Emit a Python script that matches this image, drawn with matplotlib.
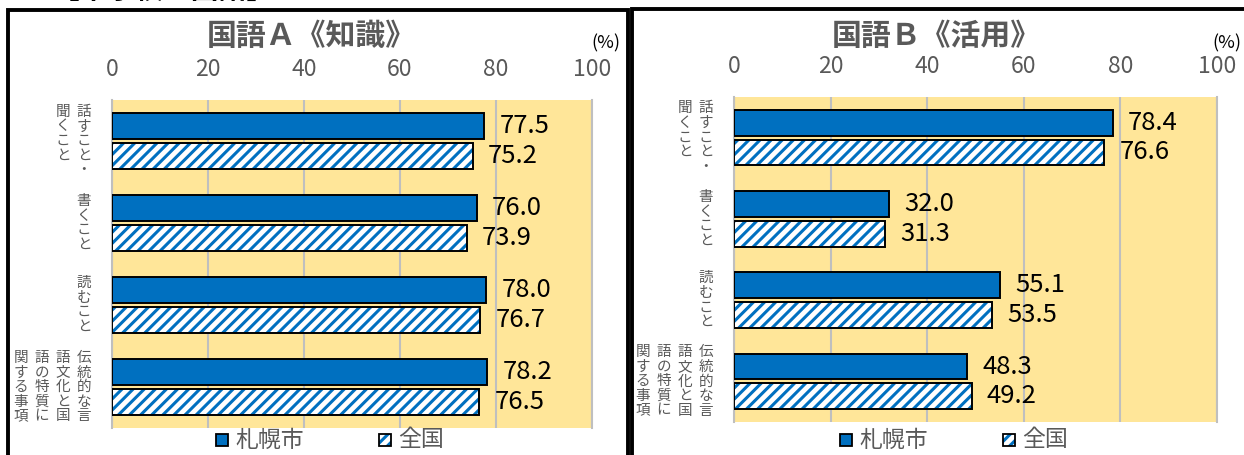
import numpy as np
import matplotlib.pyplot as plt
from matplotlib.patches import Rectangle

plt.rcParams['font.family'] = ['Noto Sans CJK JP', 'DejaVu Sans']
plt.rcParams['hatch.linewidth'] = 2.2

W, H = 1244, 455

# data
categories = ['話すこと・聞くこと', '書くこと', '読むこと',
              '伝統的な言語文化と国語の特質に関する事項']
sapporo_a = [77.5, 76.0, 78.0, 78.2]
national_a = [75.2, 73.9, 76.7, 76.5]
sapporo_b = [78.4, 32.0, 55.1, 48.3]
national_b = [76.6, 31.3, 53.5, 49.2]
xticks = [0, 20, 40, 60, 80, 100]
legend_labels = ['札幌市', '全国']
header = '【中学校　国語】'

BLUE = '#0070C0'
YELLOW = '#FFE699'
GRAY = '#595959'
GRID = '#BFBFBF'
HATCH = '///'


def fx(px):
    return px / W


def fy(py):
    return 1 - py / H


def hatched_rect(x, y, w, h, **kw):
    """white box with blue stripes and a black edge, figure pixels"""
    fig.add_artist(Rectangle((fx(x), fy(y + h)), w / W, h / H, facecolor='white',
                             edgecolor=BLUE, hatch=HATCH, linewidth=0,
                             transform=fig.transFigure, **kw))
    fig.add_artist(Rectangle((fx(x), fy(y + h)), w / W, h / H, fill=False,
                             edgecolor='black', linewidth=1.3,
                             transform=fig.transFigure, **kw))


def draw_panel(left, top, right, bottom, title, title_x, pct_x, s_vals, n_vals, leg_x):
    ax = fig.add_axes([fx(left), fy(bottom), (right - left) / W, (bottom - top) / H])
    ax.set_facecolor(YELLOW)
    y = np.arange(len(categories))
    h = 0.317
    off = 0.183
    ax.barh(y - off, s_vals, height=h, color=BLUE, edgecolor='black', linewidth=1.4, zorder=3)
    ax.barh(y + off, n_vals, height=h, color='white', edgecolor=BLUE, hatch=HATCH,
            linewidth=0, zorder=3)
    ax.barh(y + off, n_vals, height=h, fill=False, edgecolor='black', linewidth=1.4, zorder=4)
    for yy, v in zip(y - off, s_vals):
        ax.annotate(f'{v:.1f}', (v, yy), xytext=(11, 0), textcoords='offset points',
                    ha='left', va='center', fontsize=18.5, color='black')
    for yy, v in zip(y + off, n_vals):
        ax.annotate(f'{v:.1f}', (v, yy), xytext=(11, 0), textcoords='offset points',
                    ha='left', va='center', fontsize=18.5, color='black')

    ax.set_xlim(0, 100)
    ax.set_ylim(len(categories) - 0.5, -0.5)
    ax.set_xticks(xticks)
    ax.xaxis.tick_top()
    ax.tick_params(axis='x', length=0, pad=14, labelsize=16.5, labelcolor=GRAY)
    ax.set_yticks([])
    ax.grid(axis='x', color=GRID, linewidth=1.5, zorder=1)
    for s in ['top', 'bottom']:
        ax.spines[s].set_visible(False)
    for s in ['left', 'right']:
        ax.spines[s].set_color(GRID)
        ax.spines[s].set_linewidth(1.5)

    # vertical category labels, columns of 5 chars read right to left
    band = (bottom - top) / len(categories)
    step = 14.6
    for i, cat in enumerate(categories):
        cols = [cat[k:k + 5] for k in range(0, len(cat), 5)]
        n = max(len(c) for c in cols)
        yc = top + band * (i + 0.5)
        y0 = yc - n * step / 2 + step / 2
        for j, col in enumerate(cols):
            xc = left - 28 - 21 * j
            for k, ch in enumerate(col):
                fig.text(fx(xc), fy(y0 + k * step), ch, ha='center', va='center',
                         fontsize=10.5, color=GRAY)

    fig.text(fx(title_x), fy(36), title, ha='center', va='center', fontsize=21.5,
             fontweight='bold', color=GRAY)
    fig.text(fx(pct_x), fy(43), '(%)', ha='center', va='center', fontsize=13, color='black')

    # legend
    ly = 440
    fig.add_artist(Rectangle((fx(leg_x - 6), fy(ly + 6)), 12 / W, 12 / H, facecolor=BLUE,
                             edgecolor='black', linewidth=1.3, transform=fig.transFigure))
    fig.text(fx(leg_x + 13), fy(ly), legend_labels[0], ha='left', va='center',
             fontsize=16.5, color=GRAY)
    hatched_rect(leg_x + 157, ly - 6, 12, 12)
    fig.text(fx(leg_x + 176), fy(ly), legend_labels[1], ha='left', va='center',
             fontsize=16.5, color=GRAY)
    return ax


fig = plt.figure(figsize=(W / 100, H / 100), dpi=100)

draw_panel(112, 100, 592, 428, '国語Ａ《知識》', 311, 606, sapporo_a, national_a, 222)
draw_panel(734, 97, 1217, 422, '国語Ｂ《活用》', 936, 1227, sapporo_b, national_b, 846)

# panel frames
fig.add_artist(Rectangle((fx(8), fy(470)), 620 / W, 460 / H, fill=False, edgecolor='black',
                         linewidth=2.8, transform=fig.transFigure))
fig.add_artist(Rectangle((fx(632), fy(470)), 640 / W, 461 / H, fill=False, edgecolor='black',
                         linewidth=2.8, transform=fig.transFigure))

# header sits mostly above the canvas, as in the reference
fig.text(fx(52), fy(-9), header, ha='left', va='center', fontsize=20,
         fontweight='bold', color='black')

fig.savefig('out.png', dpi=100)
